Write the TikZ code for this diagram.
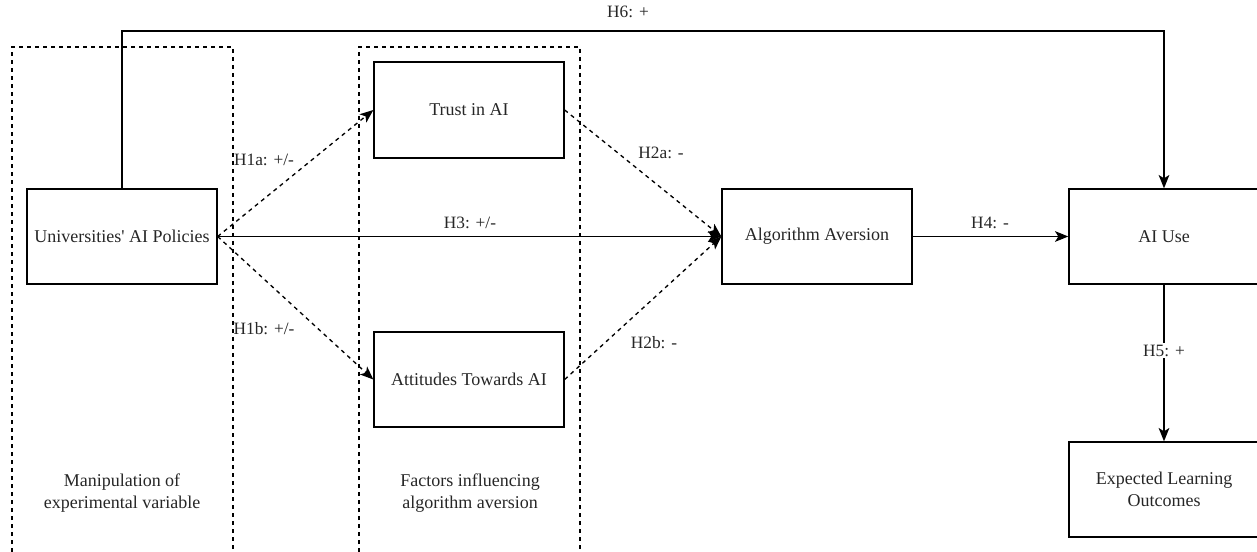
\documentclass[tikz,border=0pt]{standalone}
\usepackage{fontspec}
\setmainfont{Liberation Serif}
\usetikzlibrary{arrows.meta}
\begin{document}
\begin{tikzpicture}[x=0.75pt,y=-0.75pt,
  every node/.style={text=black!85},
  box/.style={draw, line width=1pt, minimum width=142.5pt, minimum height=71.25pt, inner sep=0pt, align=center, font=\fontsize{13.5}{16}\selectfont},
  grp/.style={draw, dash pattern=on 3pt off 3pt, line width=0.8pt},
  arr/.style={-{Stealth[length=10pt,width=8pt,inset=2.5pt]}, line width=1pt},
  darr/.style={arr, dash pattern=on 3pt off 3pt},
  lab/.style={font=\fontsize{13}{15.5}\selectfont, inner sep=1pt},
  grplab/.style={font=\fontsize{13.5}{17}\selectfont, align=center}]
\useasboundingbox (0,0) rectangle (1257,552);
% group frames
\draw[grp] (12,552) -- (12,47) -- (233,47) -- (233,552);
\draw[grp] (359,552) -- (359,47) -- (580,47) -- (580,552);
\node[grplab] (g1) at (122,493) {Manipulation of\\experimental variable};
\node[grplab] (g2) at (470,493) {Factors influencing\\algorithm aversion};
% boxes
\node[box] (uni) at (122,236.5) {Universities\textquotesingle{} AI Policies};
\node[box, minimum height=72pt] (trust) at (469,110) {Trust in AI};
\node[box] (att) at (469,379.5) {Attitudes Towards AI};
\node[box] (alg) at (817,236.5) {Algorithm Aversion};
\node[box] (use) at (1164,236.5) {AI Use};
\node[box] (elo) at (1164,489.5) {Expected Learning\\Outcomes};
% connectors
\draw[darr] (uni.east) -- (trust.west);
\draw[darr] (uni.east) -- (att.west);
\draw[arr] (uni.east) -- (alg.west);
\draw[darr] (trust.east) -- (alg.west);
\draw[darr] (att.east) -- (alg.west);
\draw[arr] (alg.east) -- (use.west);
\coordinate (h6a) at (122,31);
\coordinate (h6b) at (1164,31);
\draw[arr] (uni.north) -- (h6a) -- (h6b) -- (use.north);
\draw[arr] (use.south) -- node[lab, fill=white, pos=0.42] (l5) {H5: +} (elo.north);
% labels
\node[lab] (l1a) at (264,160) {H1a: +/-};
\node[lab] (l1b) at (264,329) {H1b: +/-};
\node[lab] (l2a) at (661,153) {H2a: -};
\node[lab] (l2b) at (654,343) {H2b: -};
\node[lab] (l3) at (470,223) {H3: +/-};
\node[lab] (l4) at (990,223) {H4: -};
\node[lab] (l6) at (628,12) {H6: +};
\end{tikzpicture}
\end{document}
